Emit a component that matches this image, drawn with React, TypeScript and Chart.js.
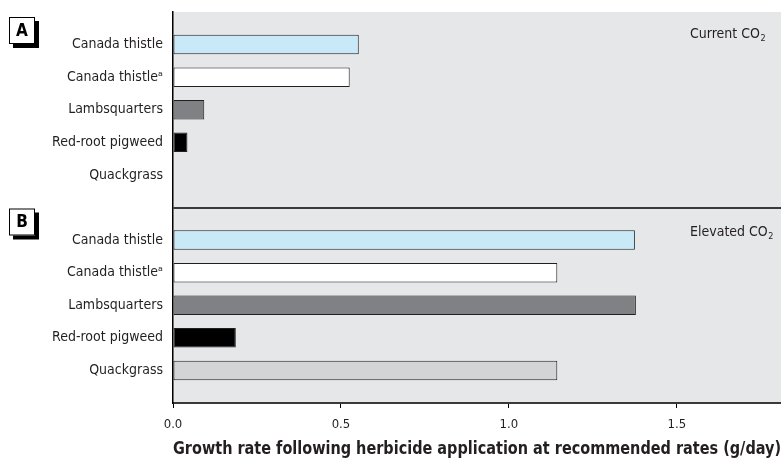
import React, { useEffect, useRef } from "react";
import { Chart, registerables } from "chart.js";

Chart.register(...registerables);

const categories = [
  "Canada thistle",
  "Canada thistle\u1D43",
  "Lambsquarters",
  "Red-root pigweed",
  "Quackgrass",
];
const currentCO2 = [0.553, 0.526, 0.093, 0.043, 0];
const elevatedCO2 = [1.375, 1.144, 1.378, 0.187, 1.144];
const barColors = ["#c7e9f8", "#ffffff", "#808184", "#000000", "#d3d4d6"];
const xTicks = [0, 0.5, 1.0, 1.5];
const panelLetters = ["A", "B"];
const panelTitles = ["Current CO", "Elevated CO"];

const FONT = "'Liberation Sans Narrow', 'DejaVu Sans Condensed', 'Roboto Condensed', sans-serif";

export default function App() {
  const ref = useRef<HTMLCanvasElement | null>(null);

  useEffect(() => {
    document.body.style.margin = "0";
    const canvas = ref.current;
    if (!canvas) return;

    const labels = ["", ...categories, "", ...categories, ""];
    const data = [null, ...currentCO2, null, ...elevatedCO2, null];
    const colors = ["transparent", ...barColors, "transparent", ...barColors, "transparent"];
    const dividerIndex = categories.length + 1;

    const decor = {
      id: "decor",
      beforeDraw(chart: any) {
        const { ctx, chartArea } = chart;
        ctx.save();
        ctx.fillStyle = "#e6e7e9";
        ctx.fillRect(chartArea.left, chartArea.top, chartArea.right - chartArea.left, chartArea.bottom - chartArea.top);
        ctx.restore();
      },
      afterDraw(chart: any) {
        const { ctx, chartArea } = chart;
        const yScale = chart.scales.y;
        const divY = yScale.getPixelForValue(dividerIndex);
        const tops = [chartArea.top, divY];
        ctx.save();
        tops.forEach((t: number, i: number) => {
          const bx = 9, by = t + (i === 0 ? 5 : 1), bw = 26, bh = 27;
          ctx.fillStyle = "#000";
          ctx.fillRect(bx + 4, by + 4, bw, bh);
          ctx.fillStyle = "#fff";
          ctx.fillRect(bx, by, bw, bh);
          ctx.strokeStyle = "#000";
          ctx.lineWidth = 1;
          ctx.strokeRect(bx + 0.5, by + 0.5, bw - 1, bh - 1);
          ctx.fillStyle = "#000";
          ctx.font = "bold 17px " + FONT;
          ctx.textAlign = "center";
          ctx.textBaseline = "middle";
          ctx.fillText(panelLetters[i], bx + bw / 2, by + bh / 2 + 1);

          // panel title with subscript
          ctx.textAlign = "left";
          ctx.textBaseline = "alphabetic";
          ctx.fillStyle = "#231f20";
          ctx.font = "14px " + FONT;
          const tx = 690;
          const ty = t + (i === 0 ? 26 : 28);
          ctx.fillText(panelTitles[i], tx, ty);
          const w = ctx.measureText(panelTitles[i]).width;
          ctx.font = "9px " + FONT;
          ctx.fillText("2", tx + w + 0.5, ty + 3);
        });
        ctx.restore();
      },
    };

    const chart = new Chart(canvas, {
      type: "bar",
      data: {
        labels,
        datasets: [
          {
            data,
            backgroundColor: colors,
            borderColor: "#231f20",
            borderWidth: (c: any) => (c.raw ? 1 : 0),
            borderSkipped: false,
            barPercentage: 0.6,
            categoryPercentage: 1,
          },
        ],
      },
      plugins: [decor],
      options: {
        indexAxis: "y",
        animation: false,
        responsive: false,
        maintainAspectRatio: false,
        layout: { padding: { top: 12, right: 0, left: 0, bottom: 0 } },
        plugins: {
          legend: { display: false },
          tooltip: { enabled: false },
        },
        scales: {
          x: {
            type: "linear",
            min: 0,
            max: 1.81,
            afterBuildTicks: (s: any) => {
              s.ticks = xTicks.map((v) => ({ value: v }));
            },
            afterFit: (s: any) => {
              s.height = 60;
              s.paddingLeft = 0;
              s.paddingRight = 0;
            },
            border: { display: true, color: "#3a3a3a", width: 2 },
            grid: {
              drawOnChartArea: false,
              drawTicks: true,
              tickLength: 5,
              tickColor: "#000",
              tickWidth: 1,
            },
            ticks: {
              color: "#231f20",
              font: { family: FONT, size: 13 },
              padding: 9,
              callback: (v: any) => Number(v).toFixed(1),
            },
            title: {
              display: true,
              text: "Growth rate following herbicide application at recommended rates (g/day)",
              color: "#231f20",
              font: { family: FONT, size: 17, weight: "bold" },
              padding: { top: 0, bottom: 3 },
            },
          },
          y: {
            type: "category",
            offset: false,
            afterFit: (s: any) => {
              s.width = 173;
              s.paddingTop = 0;
              s.paddingBottom = 0;
            },
            border: { display: true, color: "#000", width: 1.5 },
            grid: {
              offset: false,
              drawTicks: false,
              color: (c: any) => (c.index === dividerIndex ? "#3a3a3a" : "transparent"),
              lineWidth: 2,
            },
            ticks: {
              autoSkip: false,
              color: "#231f20",
              font: { family: FONT, size: 14 },
              padding: 10,
            },
          },
        },
      },
    } as any);

    return () => chart.destroy();
  }, []);

  return <canvas ref={ref} width={781} height={463} style={{ display: "block" }} />;
}
